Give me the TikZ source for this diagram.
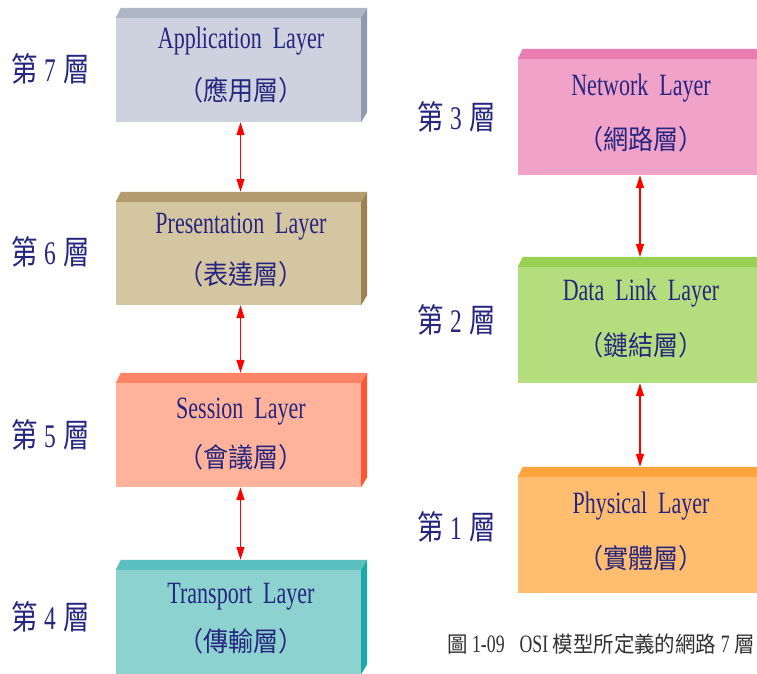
\documentclass[tikz,border=0pt]{standalone}
\usepackage{fontspec}
\setmainfont[FakeStretch=0.71]{Liberation Serif}
\newfontfamily\cjk[FakeStretch=0.93]{Noto Sans CJK TC}
\newfontfamily\cjklab[FakeStretch=0.8]{Noto Sans CJK TC}
\usetikzlibrary{arrows.meta}
\definecolor{txt}{RGB}{38,38,128}
\definecolor{capc}{RGB}{50,50,50}
\definecolor{appF}{RGB}{205,210,222}\definecolor{appT}{RGB}{174,182,198}\definecolor{appS}{RGB}{142,154,176}
\definecolor{preF}{RGB}{213,198,162}\definecolor{preT}{RGB}{181,156,110}\definecolor{preS}{RGB}{156,130,80}
\definecolor{sesF}{RGB}{255,179,155}\definecolor{sesT}{RGB}{255,133,102}\definecolor{sesS}{RGB}{255,85,51}
\definecolor{traF}{RGB}{140,211,208}\definecolor{traT}{RGB}{92,191,191}\definecolor{traS}{RGB}{26,168,170}
\definecolor{netF}{RGB}{240,162,200}\definecolor{netT}{RGB}{233,124,176}\definecolor{netS}{RGB}{210,100,150}
\definecolor{datF}{RGB}{180,222,126}\definecolor{datT}{RGB}{152,208,82}\definecolor{datS}{RGB}{120,180,60}
\definecolor{phyF}{RGB}{255,189,112}\definecolor{phyT}{RGB}{255,164,62}\definecolor{phyS}{RGB}{230,140,40}
\tikzset{
  front/.style={inner sep=0pt, minimum width=245pt},
  eng/.style={text=txt, anchor=base, inner sep=0pt, font=\fontsize{31}{33}\selectfont},
  chn/.style={text=txt, anchor=center, inner sep=0pt, font=\fontsize{27}{29}\selectfont\cjk},
  lab/.style={text=txt, anchor=center, inner sep=0pt, font=\fontsize{33}{35}\selectfont},
  link/.style={red, line width=1.2pt, {Triangle[length=13pt,width=8pt]}-{Triangle[length=13pt,width=8pt]}}
}
\newcommand\threedfaces[3]{%
  \fill[#2] (#1.north west) -- ++(5,-10) -- ([shift={(6,-10)}]#1.north east) -- (#1.north east) -- cycle;
  \fill[#3] (#1.north east) -- ++(6,-10) -- ([shift={(6,-10)}]#1.south east) -- (#1.south east) -- cycle;
  \coordinate (#1t) at ([shift={(2,-10)}]#1.north);
}
\begin{document}
\begin{tikzpicture}[x=1pt,y=-1pt]
\clip (0,0) rectangle (757,673);
\fill[white] (0,0) rectangle (757,673);

% left column
\node[front, minimum height=104pt, fill=appF] (l7) at (238.5,70) {};
\threedfaces{l7}{appT}{appS}
\node[front, minimum height=103pt, fill=preF] (l6) at (238.5,253.5) {};
\threedfaces{l6}{preT}{preS}
\node[front, minimum height=104pt, fill=sesF] (l5) at (238.5,435) {};
\threedfaces{l5}{sesT}{sesS}
\node[front, minimum height=104pt, fill=traF] (l4) at (238.5,622) {};
\threedfaces{l4}{traT}{traS}

% right column
\node[front, minimum height=116pt, fill=netF] (l3) at (640.5,117) {};
\threedfaces{l3}{netT}{netS}
\node[front, minimum height=116pt, fill=datF] (l2) at (640.5,325) {};
\threedfaces{l2}{datT}{datS}
\node[front, minimum height=116pt, fill=phyF] (l1) at (640.5,535) {};
\threedfaces{l1}{phyT}{phyS}

% texts in boxes
\node[eng] (e7) at (241,48) {Application~~Layer};
\node[chn] (c7) at (241,90) {（應用層）};
\node[eng] (e6) at (241,233) {Presentation~~Layer};
\node[chn] (c6) at (241,274) {（表達層）};
\node[eng] (e5) at (241,418) {Session~~Layer};
\node[chn] (c5) at (241,457) {（會議層）};
\node[eng] (e4) at (241,603) {Transport~~Layer};
\node[chn] (c4) at (241,641) {（傳輸層）};
\node[eng] (e3) at (641,95) {Network~~Layer};
\node[chn] (c3) at (641,139) {（網路層）};
\node[eng] (e2) at (641,300) {Data~~Link~~Layer};
\node[chn] (c2) at (641,345) {（鏈結層）};
\node[eng] (e1) at (641,513) {Physical~~Layer};
\node[chn] (c1) at (641,558) {（實體層）};

% layer labels
\node[lab] (n7) at (51,69) {{\cjklab 第}\hspace{6pt}7\hspace{8pt}{\cjklab 層}};
\node[lab] (n6) at (51,252) {{\cjklab 第}\hspace{6pt}6\hspace{8pt}{\cjklab 層}};
\node[lab] (n5) at (51,435) {{\cjklab 第}\hspace{6pt}5\hspace{8pt}{\cjklab 層}};
\node[lab] (n4) at (51,617) {{\cjklab 第}\hspace{6pt}4\hspace{8pt}{\cjklab 層}};
\node[lab] (n3) at (457,117) {{\cjklab 第}\hspace{6pt}3\hspace{8pt}{\cjklab 層}};
\node[lab] (n2) at (457,320) {{\cjklab 第}\hspace{6pt}2\hspace{8pt}{\cjklab 層}};
\node[lab] (n1) at (457,527) {{\cjklab 第}\hspace{6pt}1\hspace{8pt}{\cjklab 層}};

% arrows
\draw[link] ([xshift=2pt]l7.south) -- (l6t);
\draw[link] ([xshift=2pt]l6.south) -- (l5t);
\draw[link] ([xshift=2pt]l5.south) -- (l4t);
\draw[link] ([xshift=-0.5pt]l3.south) -- ([xshift=-2.5pt]l2t);
\draw[link] ([xshift=-0.5pt]l2.south) -- ([xshift=-2.5pt]l1t);

% caption
\node[anchor=base west, inner sep=0pt, text=capc, font=\fontsize{25}{27}\selectfont] (cap) at (447,652)
  {{\cjk\fontsize{22}{24}\selectfont 圖}~1-09\hspace{15pt}OSI~{\cjk\fontsize{22}{24}\selectfont 模型所定義的網路}~7~{\cjk\fontsize{22}{24}\selectfont 層}};
\end{tikzpicture}
\end{document}
